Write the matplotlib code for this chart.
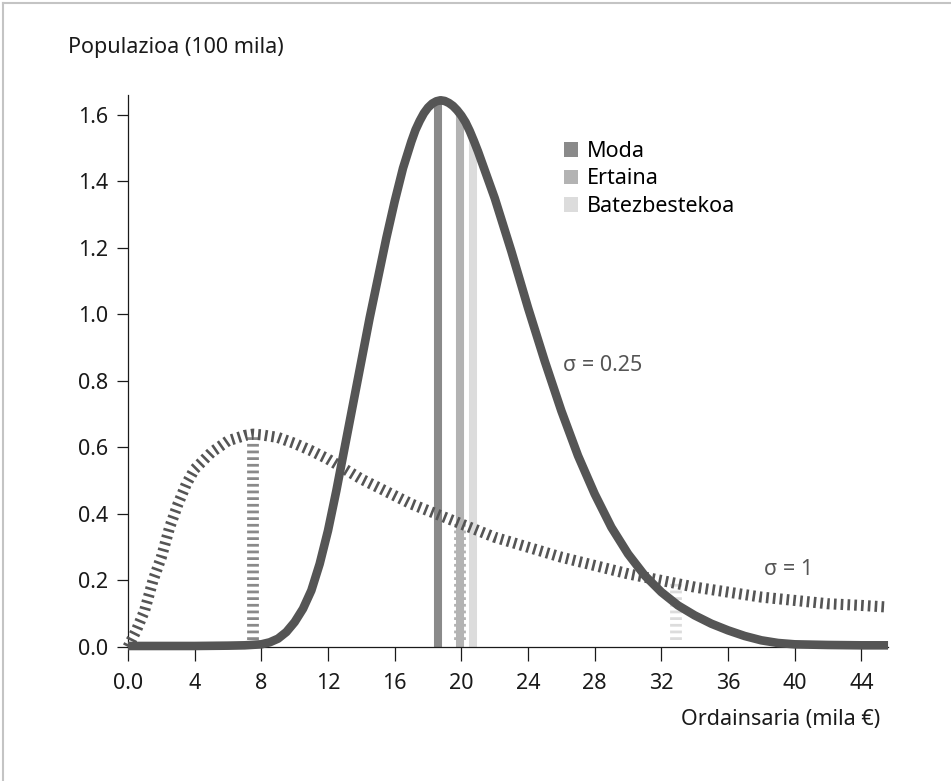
import matplotlib
matplotlib.use("Agg")
import matplotlib.pyplot as plt
from matplotlib.patches import Patch
from matplotlib.lines import Line2D

plt.rcParams['font.family'] = ['Noto Sans', 'DejaVu Sans']
plt.rcParams['lines.scale_dashes'] = False

# sigma = 0.25 curve
narrow_x = [0, 2, 4, 6, 7, 8, 8.5, 9, 9.5, 10, 10.5, 11, 11.5, 12, 12.5, 13, 13.5,
            14, 14.5, 15, 15.5, 16, 16.5, 17, 17.25, 17.5, 17.75, 18, 18.25, 18.5,
            18.75, 19, 19.25, 19.5, 19.75, 20, 20.25, 20.5, 20.75, 21, 21.5, 22,
            23, 24, 25, 26, 27, 28, 29, 30, 31, 32, 33, 34, 35, 36, 37, 38, 39, 40,
            42, 44, 45.6]
narrow_y = [0.003, 0.003, 0.003, 0.004, 0.005, 0.008, 0.014, 0.025, 0.045, 0.075,
            0.115, 0.17, 0.25, 0.35, 0.47, 0.6, 0.73, 0.86, 0.99, 1.11, 1.23, 1.34,
            1.44, 1.52, 1.555, 1.582, 1.605, 1.622, 1.634, 1.641, 1.644, 1.642,
            1.636, 1.627, 1.614, 1.598, 1.578, 1.552, 1.522, 1.49, 1.42, 1.35,
            1.19, 1.02, 0.86, 0.71, 0.575, 0.46, 0.36, 0.28, 0.215, 0.165, 0.125,
            0.095, 0.07, 0.05, 0.033, 0.02, 0.012, 0.008, 0.006, 0.005, 0.005]

# sigma = 1 curve
wide_x = [0, 0.5, 1, 1.5, 2, 2.5, 3, 3.5, 4, 5, 6, 7, 7.5, 8, 9, 10, 11, 12, 13, 14,
          15, 16, 17, 18, 19, 20, 21, 22, 23, 24, 25, 26, 28, 30, 32, 34, 36, 38,
          40, 42, 44, 45.6]
wide_y = [0.0, 0.05, 0.11, 0.2, 0.27, 0.36, 0.43, 0.49, 0.535, 0.585, 0.62, 0.636,
          0.64, 0.638, 0.63, 0.612, 0.59, 0.565, 0.535, 0.505, 0.48, 0.455, 0.43,
          0.41, 0.39, 0.37, 0.35, 0.33, 0.315, 0.3, 0.285, 0.27, 0.245, 0.22, 0.2,
          0.18, 0.165, 0.15, 0.14, 0.13, 0.125, 0.12]

stat_names = ['Moda', 'Ertaina', 'Batezbestekoa']
stat_colors = ['#8a8a8a', '#b3b3b3', '#dcdcdc']
narrow_stat_x = [18.6, 19.9, 20.7]
narrow_stat_y = [1.64, 1.60, 1.53]
wide_stat_x = [7.5, 19.9, 32.9]
wide_stat_y = [0.64, 0.37, 0.20]

x_ticks = [0, 4, 8, 12, 16, 20, 24, 28, 32, 36, 40, 44]
x_tick_labels = ['0.0', '4', '8', '12', '16', '20', '24', '28', '32', '36', '40', '44']
y_ticks = [0.0, 0.2, 0.4, 0.6, 0.8, 1.0, 1.2, 1.4, 1.6]

curve_color = '#555555'
fs = 15.5

fig = plt.figure(figsize=(9.51, 7.81), dpi=100)
ax = fig.add_axes([0.1346, 0.1716, 0.7992, 0.7068])

for xv, yv, c in zip(wide_stat_x, wide_stat_y, stat_colors):
    ax.plot([xv, xv], [0.02, yv], color=c, lw=8.5, ls=(0, (2.0, 2.8)),
            solid_capstyle='butt', dash_capstyle='butt', zorder=1)
for xv, yv, c in zip(narrow_stat_x, narrow_stat_y, stat_colors):
    ax.plot([xv, xv], [0, yv], color=c, lw=5.8, solid_capstyle='butt', zorder=2)

ax.plot(wide_x, wide_y, color=curve_color, lw=8, ls=(0, (1.9, 3.0)),
        dash_capstyle='butt', zorder=3, clip_on=False)
ax.plot(narrow_x, narrow_y, color=curve_color, lw=6.2, solid_capstyle='butt',
        solid_joinstyle='round', zorder=4, clip_on=False)

ax.set_xlim(0, 45.6)
ax.set_ylim(0, 1.66)
ax.set_xticks(x_ticks)
ax.set_xticklabels(x_tick_labels)
ax.set_yticks(y_ticks)
ax.set_yticklabels([f'{v:.1f}' for v in y_ticks])
ax.tick_params(direction='out', width=0.9, labelsize=fs, colors='#1a1a1a')
ax.tick_params(axis='x', length=10, pad=9)
ax.tick_params(axis='y', length=8, pad=6)
for s in ['top', 'right']:
    ax.spines[s].set_visible(False)
for s in ['left', 'bottom']:
    ax.spines[s].set_linewidth(0.9)
    ax.spines[s].set_color('#1a1a1a')

ax.text(26.1, 0.845, 'σ = 0.25', fontsize=fs, color='#555555', va='center')
ax.text(38.15, 0.232, 'σ = 1', fontsize=fs, color='#555555', va='center')

handles = [Patch(facecolor=c, edgecolor='none') for c in stat_colors]
ax.legend(handles, stat_names, loc='upper left', bbox_to_anchor=(564 / 951, 1 - 141 / 781),
          bbox_transform=fig.transFigure, frameon=False, fontsize=fs,
          handlelength=0.65, handleheight=0.65, handletextpad=0.4,
          labelspacing=0.3, borderpad=0, borderaxespad=0)

fig.text(68 / 951, 1 - 47 / 781, 'Populazioa (100 mila)', fontsize=fs,
         color='#1a1a1a', va='center', ha='left')
fig.text(880 / 951, 1 - 719 / 781, 'Ordainsaria (mila €)', fontsize=fs,
         color='#1a1a1a', va='center', ha='right')

# light frame on the left and top
fig.add_artist(Line2D([3 / 951, 3 / 951], [0, 1 - 3 / 781], color='#c4c4c4', lw=1.5,
                      transform=fig.transFigure))
fig.add_artist(Line2D([3 / 951, 1], [1 - 3 / 781, 1 - 3 / 781], color='#c4c4c4', lw=1.5,
                      transform=fig.transFigure))

fig.savefig('out.png', dpi=100)
